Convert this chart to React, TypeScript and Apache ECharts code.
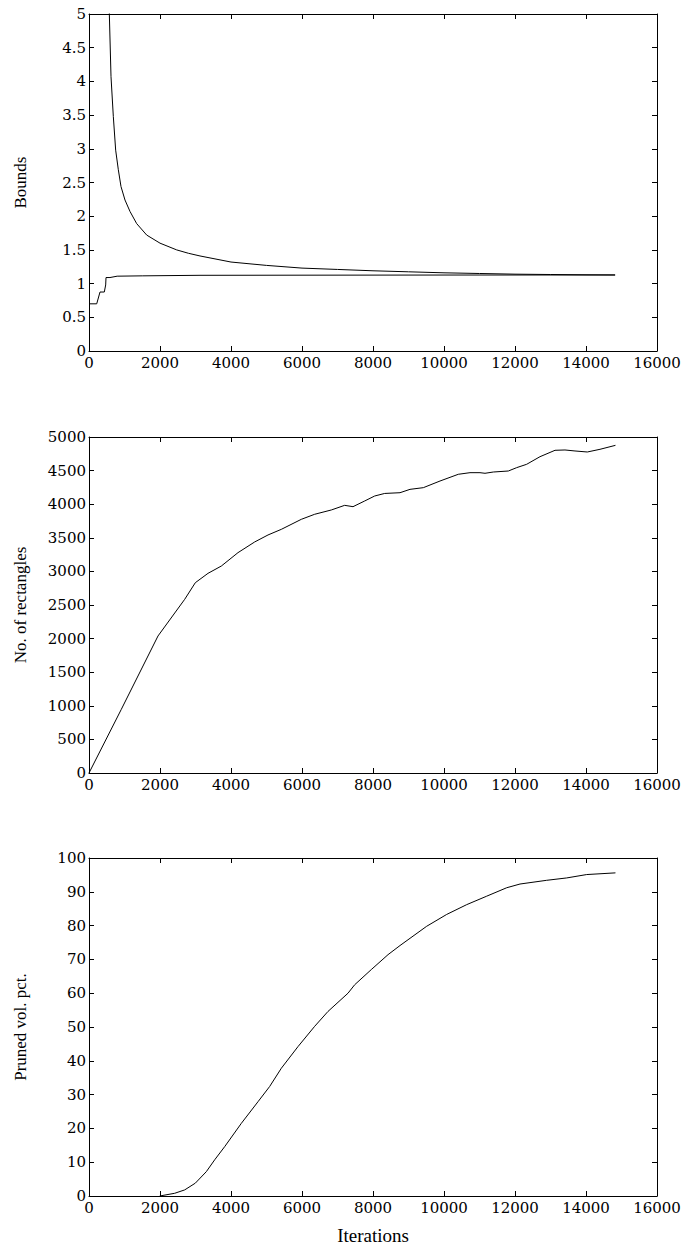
import React, { useEffect, useRef } from "react";
import * as echarts from "echarts";

// ---- Data ----
const xTicks = [0, 2000, 4000, 6000, 8000, 10000, 12000, 14000, 16000];

// Panel 1: Bounds
const upperBoundIter = [480, 573, 620, 685, 751, 826, 901, 1014, 1155, 1343, 1625, 2000, 2470, 2800, 3127, 4000, 5000, 6000, 7000, 8000, 9000, 10000, 11000, 12000, 13000, 14000, 14820];
const upperBoundVal = [6.5, 5.0, 4.07, 3.48, 2.98, 2.69, 2.44, 2.24, 2.07, 1.89, 1.72, 1.6, 1.5, 1.45, 1.41, 1.32, 1.27, 1.23, 1.21, 1.19, 1.175, 1.16, 1.15, 1.14, 1.135, 1.13, 1.128];
const lowerBoundIter = [0, 217, 310, 431, 470, 479, 591, 793, 1500, 3127, 6000, 10000, 14820];
const lowerBoundVal = [0.7, 0.7, 0.875, 0.875, 0.98, 1.09, 1.09, 1.11, 1.115, 1.123, 1.125, 1.127, 1.128];

// Panel 2: No. of rectangles
const rectIter = [0, 911, 1944, 2695, 2995, 3352, 3728, 4197, 4667, 5042, 5418, 5981, 6357, 6826, 7202, 7437, 7766, 8047, 8329, 8761, 9042, 9418, 9887, 10403, 10732, 11014, 11155, 11390, 11812, 12047, 12329, 12704, 13127, 13408, 13690, 14037, 14394, 14830];
const rectVal = [0, 948, 2039, 2584, 2832, 2971, 3080, 3279, 3438, 3542, 3626, 3775, 3850, 3914, 3983, 3963, 4048, 4122, 4160, 4171, 4221, 4246, 4345, 4445, 4469, 4469, 4460, 4479, 4494, 4544, 4594, 4707, 4802, 4807, 4792, 4777, 4817, 4876];

// Panel 3: Pruned volume percentage
const prunedIter = [1991, 2413, 2695, 2995, 3305, 3540, 3822, 4291, 4761, 5089, 5418, 5887, 6357, 6732, 7296, 7484, 7953, 8423, 8761, 9512, 10075, 10639, 11202, 11766, 12141, 12892, 13455, 14019, 14830];
const prunedVal = [0, 0.8, 1.8, 3.8, 7.2, 10.7, 14.6, 21.5, 27.9, 32.4, 37.8, 44.2, 50.2, 54.6, 60.0, 62.5, 67.0, 71.4, 74.1, 79.8, 83.3, 86.2, 88.7, 91.2, 92.3, 93.4, 94.1, 95.1, 95.6];

const yTitles = ["Bounds", "No. of rectangles", "Pruned vol. pct."];
const xTitle = "Iterations";

const zip = (a: number[], b: number[]) => a.map((v, i) => [v, b[i]]);

export default function App() {
  const ref = useRef<HTMLDivElement>(null);
  useEffect(() => {
    if (!ref.current) return;
    const chart = echarts.init(ref.current, null, { renderer: "svg" });
    const tickFont = { fontFamily: "DejaVu Serif", fontSize: 15, color: "#000" };
    const titleFont = { fontFamily: "Liberation Serif", fontSize: 17, color: "#000" };
    const lineStyle = { color: "#000", width: 1 };
    const fmt = (v: number) => String(v);
    const grids = [
      { left: 89, top: 14, width: 568, height: 337 },
      { left: 89, top: 437, width: 568, height: 336 },
      { left: 89, top: 858, width: 568, height: 338 },
    ];
    const yCfg = [
      { min: 0, max: 5, interval: 0.5 },
      { min: 0, max: 5000, interval: 500 },
      { min: 0, max: 100, interval: 10 },
    ];
    const xAxis: any[] = [];
    const yAxis: any[] = [];
    grids.forEach((g, i) => {
      xAxis.push({
        type: "value", gridIndex: i, position: "bottom",
        min: xTicks[0], max: xTicks[xTicks.length - 1], interval: xTicks[1] - xTicks[0],
        axisLine: { show: true, onZero: false, lineStyle },
        axisTick: { show: true, inside: true, length: 5, lineStyle },
        axisLabel: { show: true, margin: 4, formatter: fmt, ...tickFont },
        splitLine: { show: false },
        name: i === 2 ? xTitle : "",
        nameLocation: "middle", nameGap: 30,
        nameTextStyle: { ...titleFont, fontSize: 19 },
      });
      xAxis.push({
        type: "value", gridIndex: i, position: "top",
        min: xTicks[0], max: xTicks[xTicks.length - 1], interval: xTicks[1] - xTicks[0],
        axisLine: { show: true, onZero: false, lineStyle },
        axisTick: { show: true, inside: true, length: 5, lineStyle },
        axisLabel: { show: false },
        splitLine: { show: false },
      });
      yAxis.push({
        type: "value", gridIndex: i, position: "left", ...yCfg[i],
        axisLine: { show: true, onZero: false, lineStyle },
        axisTick: { show: true, inside: true, length: 5, lineStyle },
        axisLabel: { show: true, margin: 3, formatter: fmt, ...tickFont },
        splitLine: { show: false },
        name: yTitles[i], nameLocation: "middle", nameGap: 60, nameTextStyle: titleFont,
      });
      yAxis.push({
        type: "value", gridIndex: i, position: "right", ...yCfg[i],
        axisLine: { show: true, onZero: false, lineStyle },
        axisTick: { show: true, inside: true, length: 5, lineStyle },
        axisLabel: { show: false },
        splitLine: { show: false },
      });
    });
    const mk = (data: number[][], idx: number) => ({
      type: "line", xAxisIndex: idx * 2, yAxisIndex: idx * 2, data,
      showSymbol: false, symbol: "none", lineStyle, clip: true, silent: true,
    });
    chart.setOption({
      animation: false,
      backgroundColor: "#fff",
      grid: grids,
      xAxis, yAxis,
      series: [
        mk(zip(upperBoundIter, upperBoundVal), 0),
        mk(zip(lowerBoundIter, lowerBoundVal), 0),
        mk(zip(rectIter, rectVal), 1),
        mk(zip(prunedIter, prunedVal), 2),
      ],
    });
    return () => chart.dispose();
  }, []);
  return (
    <div
      ref={ref}
      style={{ position: "fixed", left: 0, top: 0, width: 688, height: 1247 }}
    />
  );
}
